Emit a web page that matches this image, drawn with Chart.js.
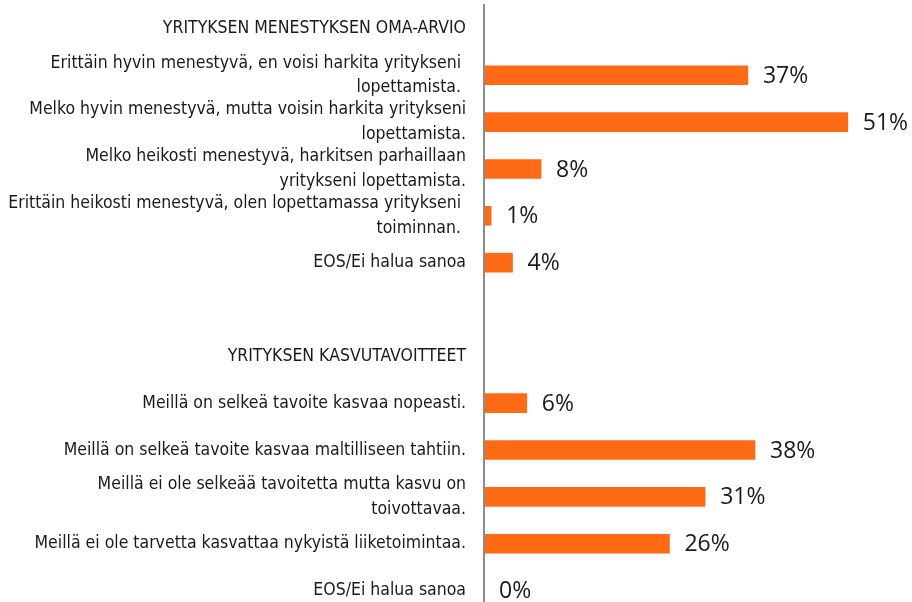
<!DOCTYPE html>
<html>
<head>
<meta charset="utf-8">
<script src="https://cdn.jsdelivr.net/npm/chart.js@4/dist/chart.umd.min.js"></script>
<style>
  html, body { margin: 0; padding: 0; background: #fff; overflow: hidden; }
  #wrap { position: absolute; left: 0; top: 0; width: 912px; height: 614px; }
</style>
</head>
<body>
<div id="wrap"><canvas id="self-assessment"></canvas></div>
<script>
// section 1: yrityksen menestyksen oma-arvio
const header1 = 'YRITYKSEN MENESTYKSEN OMA-ARVIO';
const labels1 = [
  ['Erittäin hyvin menestyvä, en voisi harkita yritykseni ', 'lopettamista. '],
  ['Melko hyvin menestyvä, mutta voisin harkita yritykseni', 'lopettamista.'],
  ['Melko heikosti menestyvä, harkitsen parhaillaan', 'yritykseni lopettamista.'],
  ['Erittäin heikosti menestyvä, olen lopettamassa yritykseni ', 'toiminnan. '],
  'EOS/Ei halua sanoa'
];
const values1 = [37, 51, 8, 1, 4];

// section 2: kasvutavoitteet
const header2 = 'YRITYKSEN KASVUTAVOITTEET';
const labels2 = [
  'Meillä on selkeä tavoite kasvaa nopeasti.',
  'Meillä on selkeä tavoite kasvaa maltilliseen tahtiin.',
  ['Meillä ei ole selkeää tavoitetta mutta kasvu on', 'toivottavaa.'],
  'Meillä ei ole tarvetta kasvattaa nykyistä liiketoimintaa.',
  'EOS/Ei halua sanoa'
];
const values2 = [6, 38, 31, 26, 0];

const xMin = 0;
const xMax = 60;

// headers and the empty spacer row get no bar
const allLabels = [header1, ...labels1, '', header2, ...labels2];
const allValues = [null, ...values1, null, null, ...values2];

const labelFont = "'DejaVu Sans Condensed', 'DejaVu Sans', sans-serif";

// value labels at the end of each bar
const valueLabels = {
  id: 'valueLabels',
  afterDatasetsDraw(chart) {
    const ctx = chart.ctx;
    const meta = chart.getDatasetMeta(0);
    ctx.save();
    ctx.font = "23px 'Open Sans', sans-serif";
    ctx.fillStyle = '#1a1a1a';
    ctx.textAlign = 'left';
    ctx.textBaseline = 'middle';
    meta.data.forEach((bar, i) => {
      const v = chart.data.datasets[0].data[i];
      if (v === null) return;
      ctx.fillText(v + '%', bar.x + 15, bar.y + 1);
    });
    ctx.restore();
  }
};

new Chart(document.getElementById('self-assessment'), {
  type: 'bar',
  data: {
    labels: allLabels,
    datasets: [{
      data: allValues,
      // zero-length bars stay invisible
      backgroundColor: ctx => (ctx.raw ? '#FF6B14' : 'rgba(0,0,0,0)'),
      barThickness: 19,
      borderWidth: 0
    }]
  },
  options: {
    indexAxis: 'y',
    responsive: true,
    maintainAspectRatio: false,
    animation: false,
    layout: { padding: { top: 5, right: 0, bottom: 0, left: 0 } },
    plugins: {
      legend: { display: false },
      tooltip: { enabled: false }
    },
    scales: {
      x: {
        display: false,
        min: xMin,
        max: xMax
      },
      y: {
        afterFit(scale) {
          scale.width = 484;
          scale.paddingTop = 0;
          scale.paddingBottom = 0;
        },
        grid: { display: false, drawTicks: false },
        border: { display: true, color: '#8c8c8c', width: 2, z: 1 },
        ticks: {
          autoSkip: false,
          padding: 18,
          color: '#1a1a1a',
          font: { family: labelFont, size: 17.5, lineHeight: 1.4 }
        }
      }
    }
  },
  plugins: [valueLabels]
});
</script>
</body>
</html>
